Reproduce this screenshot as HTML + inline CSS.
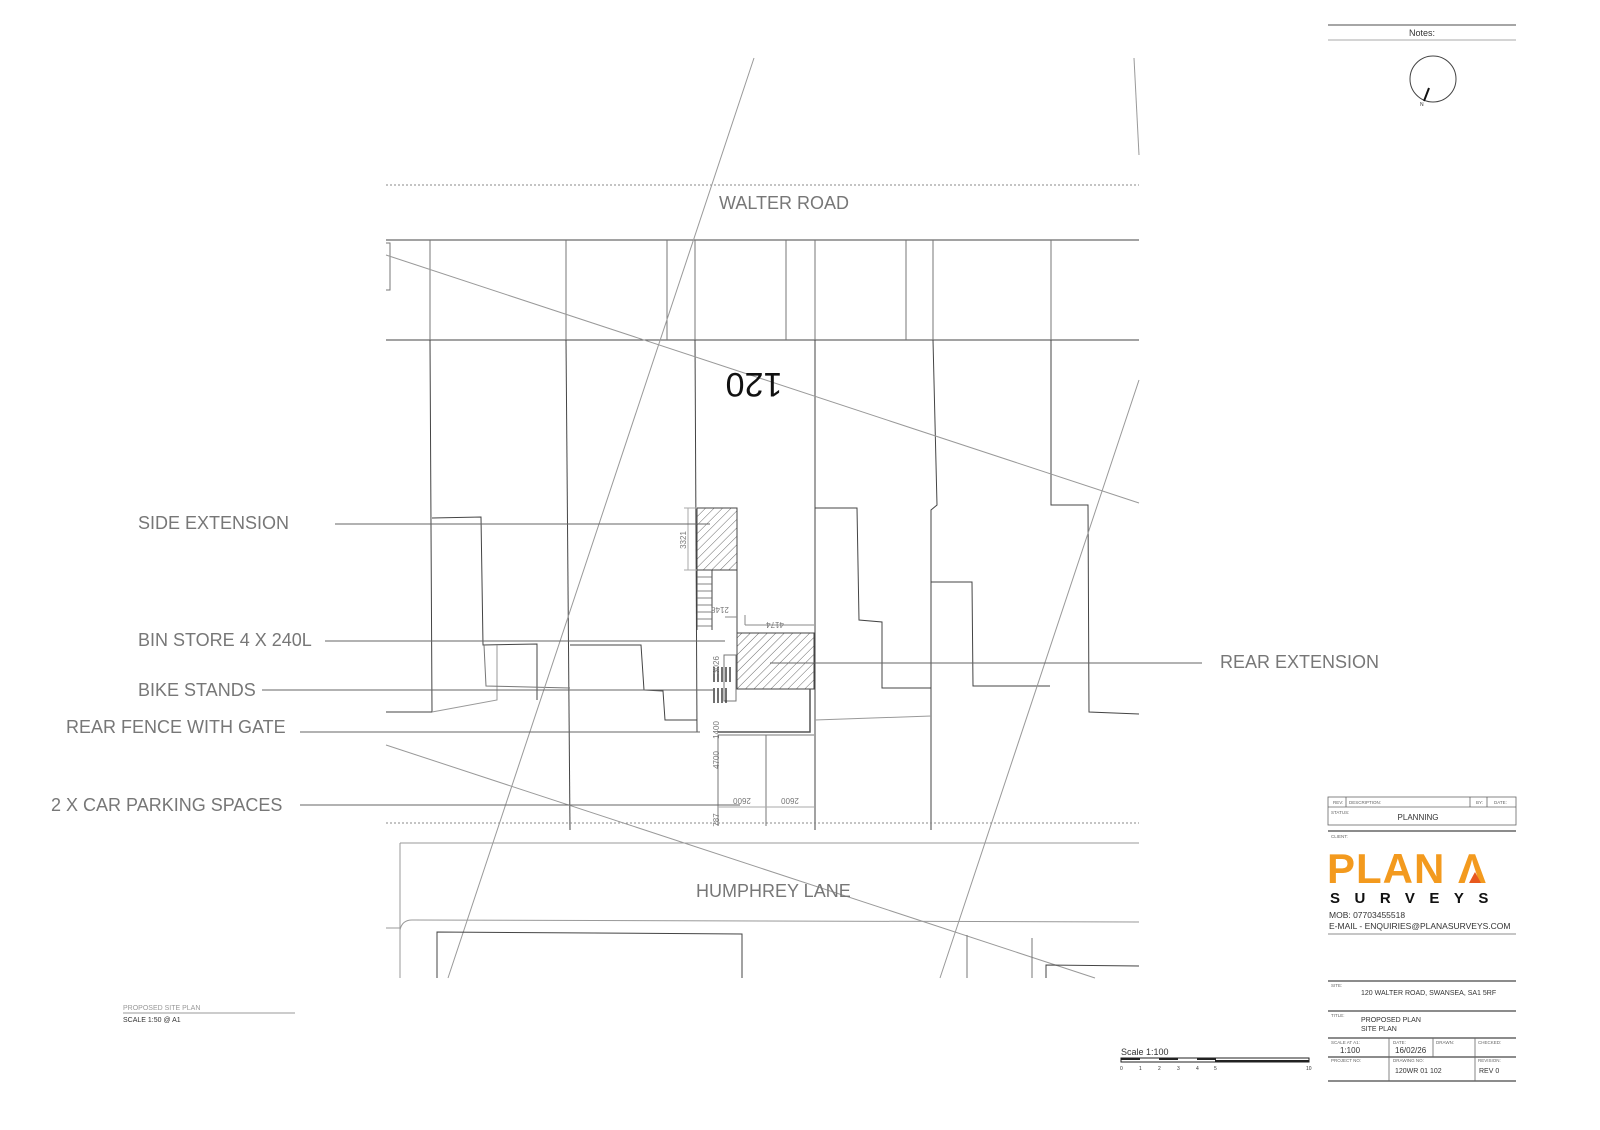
<!DOCTYPE html>
<html><head><meta charset="utf-8"><style>
html,body{margin:0;padding:0;background:#fff;}
svg{display:block;font-family:"Liberation Sans",sans-serif;}
</style></head><body>
<svg width="1600" height="1130" viewBox="0 0 1600 1130" xmlns="http://www.w3.org/2000/svg">
<defs>
<pattern id="h" width="6" height="6" patternUnits="userSpaceOnUse" patternTransform="rotate(45)">
<line x1="0" y1="0" x2="0" y2="6" stroke="#444" stroke-width="0.8"/></pattern>
</defs>
<g fill="none" stroke="#444" stroke-width="1">
<line x1="386" y1="185" x2="1139" y2="185" stroke="#888" stroke-dasharray="2,2"/>
<line x1="386" y1="240" x2="1139" y2="240"/>
<line x1="386" y1="340" x2="1139" y2="340"/>
<polyline points="386,243 390,243 390,290 386,290" stroke="#777"/>
<line x1="430" y1="240" x2="430" y2="340" stroke="#777"/>
<line x1="566" y1="240" x2="566" y2="340" stroke="#777"/>
<line x1="667" y1="240" x2="667" y2="340" stroke="#777"/>
<line x1="695" y1="240" x2="695" y2="340" stroke="#777"/>
<line x1="786" y1="240" x2="786" y2="340" stroke="#777"/>
<line x1="815" y1="240" x2="815" y2="340" stroke="#777"/>
<line x1="906" y1="240" x2="906" y2="340" stroke="#777"/>
<line x1="933" y1="240" x2="933" y2="340" stroke="#777"/>
<line x1="1051" y1="240" x2="1051" y2="340" stroke="#777"/>
<polyline points="430,340 432,712 386,712"/>
<polyline points="432,518 481,517 483,645 537,644 537,700"/>
<polyline points="566,340 570,830"/>
<polyline points="570,645 641,645 644,690 663,691 665,720 697,720"/>
<polyline points="497,645 497,700 432,712" stroke="#999"/>
<polyline points="484,645 486,686 570,688" stroke="#777"/>
<polyline points="695,340 697,732"/>
<polyline points="815,340 815,830"/>
<polyline points="815,508 857,508 859,620 882,622 882,688 931,688"/>
<polyline points="933,340 937,505 931,510 931,830"/>
<polyline points="931,582 972,582 973,686 1050,686"/>
<polyline points="1051,340 1051,505 1088,505 1089,712 1139,714"/>
<line x1="815" y1="720" x2="931" y2="716" stroke="#999"/>
<line x1="754" y1="58" x2="448" y2="978" stroke="#999"/>
<line x1="386" y1="255" x2="1139" y2="503" stroke="#999"/>
<line x1="1139" y1="380" x2="940" y2="978" stroke="#999"/>
<line x1="386" y1="745" x2="1095" y2="978" stroke="#999"/>
<line x1="1134" y1="58" x2="1139" y2="155" stroke="#999"/>
<line x1="386" y1="823" x2="1139" y2="823" stroke="#888" stroke-dasharray="2,2"/>
<line x1="400" y1="843" x2="1139" y2="843" stroke="#999"/>
<line x1="400" y1="843" x2="400" y2="978" stroke="#999"/>
<path d="M400,930 Q402,920 412,920 L1139,922" stroke="#999"/>
<line x1="386" y1="928" x2="400" y2="928" stroke="#999"/>
<polyline points="437,978 437,932 742,934 742,978"/>
<line x1="967" y1="935" x2="967" y2="978" stroke="#777"/>
<line x1="1032" y1="938" x2="1032" y2="978" stroke="#777"/>
<polyline points="1046,978 1046,965 1139,966"/>
<rect x="697" y="508" width="40" height="62" fill="url(#h)"/>
<rect x="737" y="633" width="77" height="56" fill="url(#h)"/>
<line x1="737" y1="570" x2="737" y2="633"/>
<line x1="697" y1="570" x2="697" y2="630"/>
<line x1="712" y1="570" x2="712" y2="630"/>
<g stroke="#666" stroke-width="0.8">
<line x1="697" y1="577" x2="712" y2="577"/><line x1="697" y1="584" x2="712" y2="584"/><line x1="697" y1="591" x2="712" y2="591"/><line x1="697" y1="598" x2="712" y2="598"/><line x1="697" y1="605" x2="712" y2="605"/><line x1="697" y1="612" x2="712" y2="612"/><line x1="697" y1="619" x2="712" y2="619"/><line x1="697" y1="626" x2="712" y2="626"/>
</g>
<line x1="745" y1="625" x2="814" y2="625" stroke="#888"/>
<line x1="725" y1="617" x2="737" y2="617" stroke="#888"/>
<line x1="745" y1="625" x2="745" y2="615" stroke="#888"/>
<rect x="724" y="655" width="12" height="46" stroke="#777"/>
<g stroke="#222" stroke-width="1.3">
<line x1="714" y1="667" x2="714" y2="682"/><line x1="718" y1="667" x2="718" y2="682"/><line x1="722" y1="667" x2="722" y2="682"/><line x1="726" y1="667" x2="726" y2="682"/><line x1="730" y1="667" x2="730" y2="682"/>
<line x1="714" y1="688" x2="714" y2="703"/><line x1="718" y1="688" x2="718" y2="703"/><line x1="722" y1="688" x2="722" y2="703"/><line x1="726" y1="688" x2="726" y2="703"/>
</g>
<polyline points="810,689 810,732 718,732" stroke="#555" stroke-width="1.5"/>
<line x1="697" y1="732" x2="700" y2="732"/>
<line x1="718" y1="735" x2="718" y2="826" stroke="#777"/>
<line x1="766" y1="735" x2="766" y2="826" stroke="#777"/>
<line x1="718" y1="735" x2="814" y2="735" stroke="#777"/>
<line x1="718" y1="807" x2="814" y2="807" stroke="#aaa"/>
<line x1="684" y1="508" x2="697" y2="508" stroke="#aaa"/>
<line x1="684" y1="570" x2="697" y2="570" stroke="#aaa"/>
<line x1="688" y1="508" x2="688" y2="570" stroke="#aaa"/>
<line x1="335" y1="524" x2="710" y2="524" stroke="#666"/>
<line x1="325" y1="641" x2="725" y2="641" stroke="#666"/>
<line x1="262" y1="690" x2="715" y2="690" stroke="#666"/>
<line x1="300" y1="732" x2="700" y2="732" stroke="#666"/>
<line x1="300" y1="805" x2="740" y2="805" stroke="#666"/>
<line x1="770" y1="663" x2="1202" y2="663" stroke="#666"/>
</g>
<g fill="#777" font-size="18">
<text x="719" y="209">WALTER ROAD</text>
<text x="696" y="897">HUMPHREY LANE</text>
<text x="138" y="529">SIDE EXTENSION</text>
<text x="138" y="646">BIN STORE 4 X 240L</text>
<text x="138" y="696">BIKE STANDS</text>
<text x="66" y="733">REAR FENCE WITH GATE</text>
<text x="51" y="811">2 X CAR PARKING SPACES</text>
<text x="1220" y="668">REAR EXTENSION</text>
</g>
<text x="0" y="0" font-size="34" fill="#111" transform="translate(754,382) rotate(180)" text-anchor="middle" dominant-baseline="middle">120</text>
<g font-size="8" fill="#777">
<text transform="translate(686,540) rotate(-90)" text-anchor="middle">3321</text>
<text transform="translate(719,730) rotate(-90)" text-anchor="middle">1400</text>
<text transform="translate(719,665) rotate(-90)" text-anchor="middle">3026</text>
<text transform="translate(719,760) rotate(-90)" text-anchor="middle">4700</text>
<text transform="translate(719,820) rotate(-90)" text-anchor="middle">787</text>
<text transform="translate(775,622) rotate(180)" text-anchor="middle">4174</text>
<text transform="translate(720,607) rotate(180)" text-anchor="middle">2148</text>
<text transform="translate(742,798) rotate(180)" text-anchor="middle">2600</text>
<text transform="translate(790,798) rotate(180)" text-anchor="middle">2600</text>
</g>
<text x="123" y="1010" font-size="7" fill="#999">PROPOSED SITE PLAN</text>
<line x1="123" y1="1013" x2="295" y2="1013" stroke="#999"/>
<text x="123" y="1022" font-size="7" fill="#333">SCALE 1:50 @ A1</text>
<line x1="1328" y1="25" x2="1516" y2="25" stroke="#888" stroke-width="1.5"/>
<text x="1422" y="36" font-size="9" fill="#333" text-anchor="middle">Notes:</text>
<line x1="1328" y1="40" x2="1516" y2="40" stroke="#aaa"/>
<circle cx="1433" cy="79" r="23" fill="none" stroke="#444"/>
<line x1="1429" y1="88" x2="1424" y2="101" stroke="#111" stroke-width="2"/>
<text x="1420" y="106" font-size="5" fill="#333">N</text>
<text x="1121" y="1055" font-size="9" fill="#333">Scale 1:100</text>
<rect x="1121" y="1058" width="188" height="4" fill="none" stroke="#222"/>
<rect x="1121" y="1058" width="19" height="2" fill="#222"/><rect x="1159" y="1058" width="19" height="2" fill="#222"/><rect x="1197" y="1058" width="19" height="2" fill="#222"/><rect x="1215" y="1060" width="94" height="2" fill="#222"/>
<g font-size="5" fill="#333"><text x="1120" y="1070">0</text><text x="1139" y="1070">1</text><text x="1158" y="1070">2</text><text x="1177" y="1070">3</text><text x="1196" y="1070">4</text><text x="1214" y="1070">5</text><text x="1306" y="1070">10</text></g>
<g fill="none" stroke="#666" stroke-width="0.8">
<rect x="1328" y="797" width="188" height="28"/>
<line x1="1328" y1="807" x2="1516" y2="807"/>
<line x1="1346" y1="797" x2="1346" y2="807"/>
<line x1="1470" y1="797" x2="1470" y2="807"/>
<line x1="1487" y1="797" x2="1487" y2="807"/>
<line x1="1328" y1="831" x2="1516" y2="831" stroke-width="1.5"/>
<line x1="1328" y1="934" x2="1516" y2="934"/>
<line x1="1328" y1="981" x2="1516" y2="981" stroke-width="1.5"/>
<line x1="1328" y1="1011" x2="1516" y2="1011" stroke-width="1.5"/>
<line x1="1328" y1="1038" x2="1516" y2="1038" stroke-width="1.5"/>
<line x1="1328" y1="1057" x2="1516" y2="1057" stroke-width="1.5"/>
<line x1="1328" y1="1081" x2="1516" y2="1081" stroke-width="1.5"/>
<line x1="1389" y1="1038" x2="1389" y2="1081"/>
<line x1="1433" y1="1038" x2="1433" y2="1057"/>
<line x1="1475" y1="1038" x2="1475" y2="1081"/>
</g>
<g font-size="4.5" fill="#666">
<text x="1333" y="804">REV:</text><text x="1349" y="804">DESCRIPTION:</text><text x="1476" y="804">BY:</text><text x="1494" y="804">DATE:</text>
<text x="1331" y="814">STATUS:</text><text x="1331" y="838">CLIENT:</text>
<text x="1331" y="987">SITE:</text><text x="1331" y="1017">TITLE:</text>
<text x="1331" y="1044">SCALE AT A1:</text><text x="1393" y="1044">DATE:</text><text x="1436" y="1044">DRAWN:</text><text x="1478" y="1044">CHECKED:</text>
<text x="1331" y="1062">PROJECT NO:</text><text x="1393" y="1062">DRAWING NO:</text><text x="1478" y="1062">REVISION:</text>
</g>
<text x="1418" y="820" font-size="8" fill="#333" text-anchor="middle">PLANNING</text>
<text x="1327" y="883" font-size="42" font-weight="bold" fill="#f39a1e" letter-spacing="1">PLAN Λ</text>
<polygon points="1469,883 1475,872 1481,883" fill="#e8581e"/>
<text x="1330" y="903" font-size="15" font-weight="bold" fill="#111" letter-spacing="14.5">SURVEYS</text>
<text x="1329" y="918" font-size="8.5" fill="#333">MOB: 07703455518</text>
<text x="1329" y="929" font-size="8.5" fill="#333">E-MAIL - ENQUIRIES@PLANASURVEYS.COM</text>
<text x="1361" y="995" font-size="7" fill="#333">120 WALTER ROAD, SWANSEA, SA1 5RF</text>
<text x="1361" y="1022" font-size="7" fill="#333">PROPOSED PLAN</text>
<text x="1361" y="1031" font-size="7" fill="#333">SITE PLAN</text>
<text x="1340" y="1053" font-size="8" fill="#333">1:100</text>
<text x="1395" y="1053" font-size="8" fill="#333">16/02/26</text>
<text x="1395" y="1073" font-size="7" fill="#333">120WR 01 102</text>
<text x="1479" y="1073" font-size="7" fill="#333">REV 0</text>
</svg>
</body></html>
